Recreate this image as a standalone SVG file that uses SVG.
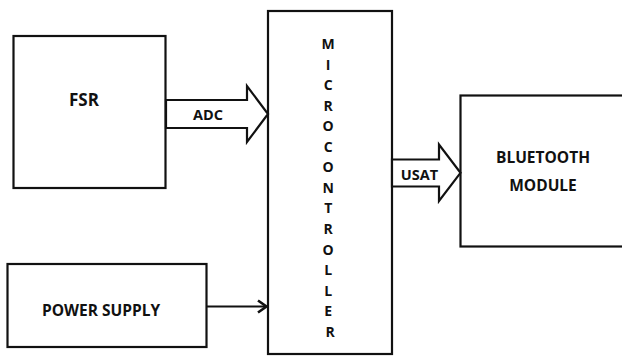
<svg xmlns="http://www.w3.org/2000/svg" width="622" height="356" viewBox="0 0 622 356">
<style>
.box{fill:#fff;stroke:#111;stroke-width:2.2}
.t{font-family:"Open Sans","Liberation Sans",sans-serif;font-weight:bold;fill:#111;text-anchor:middle}
.conn{fill:#fff;stroke:#111;stroke-width:2.2;stroke-linejoin:miter}
</style>
<rect width="622" height="356" fill="#fff"/>
<g id="fsr">
<rect class="box" x="13.5" y="36" width="152" height="152"/>
<text class="t" x="84" y="106" font-size="17">FSR</text>
</g>
<g id="power-supply">
<rect class="box" x="7.5" y="264" width="199" height="83"/>
<text class="t" x="101" y="316" font-size="15.5">POWER SUPPLY</text>
</g>
<g id="microcontroller">
<rect class="box" x="268" y="11" width="124" height="343"/>
<text class="t" font-size="14">
<tspan x="330" y="49">M</tspan>
<tspan x="330" y="69.5">I</tspan>
<tspan x="330" y="90.1">C</tspan>
<tspan x="330" y="110.6">R</tspan>
<tspan x="330" y="131.2">O</tspan>
<tspan x="330" y="151.7">C</tspan>
<tspan x="330" y="172.3">O</tspan>
<tspan x="330" y="192.8">N</tspan>
<tspan x="330" y="213.4">T</tspan>
<tspan x="330" y="233.9">R</tspan>
<tspan x="330" y="254.5">O</tspan>
<tspan x="330" y="275">L</tspan>
<tspan x="330" y="295.6">L</tspan>
<tspan x="330" y="316.1">E</tspan>
<tspan x="330" y="336.7">R</tspan>
</text>
</g>
<g id="bluetooth-module">
<rect class="box" x="460.5" y="95.5" width="170" height="151"/>
<text class="t" x="543" y="163" font-size="15.5">BLUETOOTH</text>
<text class="t" x="543" y="191" font-size="15.5">MODULE</text>
</g>
<g id="connectors">
<polygon class="conn" points="166,100 247,100 247,86 268,114 247,142 247,128 166,128"/>
<text class="t" x="208" y="119.5" font-size="14.5">ADC</text>
<polygon class="conn" points="392,159.5 439,159.5 439,144.5 460.5,172.8 439,201 439,186.5 392,186.5"/>
<text class="t" x="419.5" y="180" font-size="14.5">USAT</text>
<line x1="206.5" y1="306.5" x2="266" y2="306.5" stroke="#111" stroke-width="2.2"/>
<polyline points="258,300.5 266.5,306.5 258,312.5" fill="none" stroke="#111" stroke-width="2.6"/>
</g>
</svg>
